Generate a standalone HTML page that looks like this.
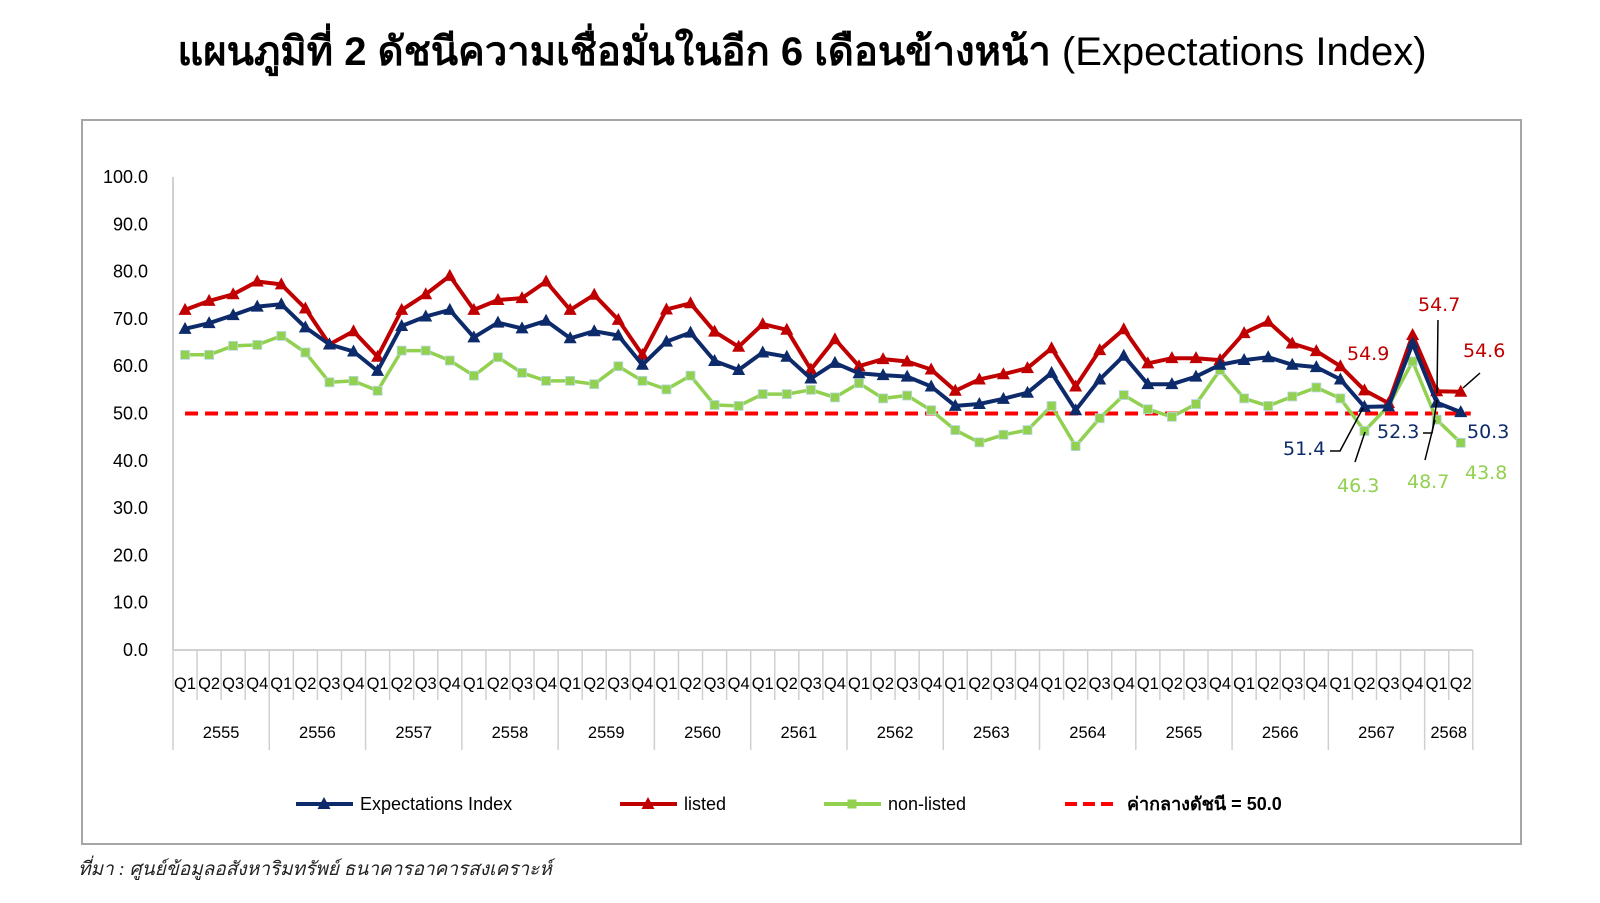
<!DOCTYPE html>
<html><head><meta charset="utf-8">
<style>
html,body{margin:0;padding:0;background:#fff;}
body{width:1600px;height:903px;overflow:hidden;position:relative;font-family:"Liberation Sans","Noto Sans CJK SC",sans-serif;}
</style></head>
<body>
<svg id="chart" width="1600" height="903" xmlns="http://www.w3.org/2000/svg" style="position:absolute;left:0;top:0;font-family:'Liberation Sans','Noto Sans CJK SC',sans-serif">
<text x="802" y="65" text-anchor="middle" font-size="40" font-weight="bold" fill="#000" font-family="'Liberation Sans','Noto Sans CJK SC',sans-serif">แผนภูมิที่ 2 ดัชนีความเชื่อมั่นในอีก 6 เดือนข้างหน้า <tspan font-weight="normal">(Expectations Index)</tspan></text>
<rect x="82" y="120" width="1439" height="724" fill="none" stroke="#a6a6a6" stroke-width="2"/>
<g id="axes"></g>
<g id="series"></g>
<g id="labels"></g>
<g id="legend"></g>
<text x="78" y="875" font-size="19" fill="#222" font-family="'Liberation Serif','Noto Serif CJK SC',serif" font-style="italic">ที่มา : ศูนย์ข้อมูลอสังหาริมทรัพย์ ธนาคารอาคารสงเคราะห์</text>
</svg>
<script>
const years = ["2555","2556","2557","2558","2559","2560","2561","2562","2563","2564","2565","2566","2567","2568"];
const quarters = ["Q1","Q2","Q3","Q4"];
const yTicks = [0,10,20,30,40,50,60,70,80,90,100];
const expectations = [67.9,69.1,70.8,72.6,73.1,68.2,64.6,63.1,59.0,68.5,70.5,71.9,66.1,69.2,68.0,69.6,65.9,67.4,66.5,60.3,65.2,67.1,61.1,59.2,62.9,62.0,57.4,60.7,58.5,58.1,57.8,55.7,51.6,52.0,53.1,54.4,58.6,50.7,57.2,62.2,56.2,56.2,57.8,60.3,61.3,61.9,60.3,59.8,57.2,51.4,51.5,64.8,52.3,50.3];
const listed = [71.9,73.8,75.2,77.9,77.3,72.2,64.6,67.4,62.0,71.9,75.2,79.1,71.9,74.0,74.4,77.9,71.9,75.1,69.8,62.4,72.0,73.3,67.3,64.1,68.9,67.7,59.3,65.7,60.0,61.5,61.0,59.3,54.8,57.2,58.3,59.6,63.8,55.7,63.4,67.8,60.6,61.7,61.7,61.3,67.0,69.4,64.8,63.2,60.0,54.9,52.2,66.6,54.7,54.6];
const nonListed = [62.4,62.4,64.3,64.5,66.4,62.9,56.6,56.9,54.8,63.3,63.3,61.2,58.0,61.9,58.6,56.9,56.9,56.2,60.0,56.9,55.1,58.0,51.8,51.6,54.1,54.1,55.0,53.4,56.4,53.2,53.8,50.7,46.5,43.9,45.5,46.5,51.6,43.1,49.0,53.9,50.9,49.3,52.0,59.2,53.2,51.6,53.6,55.5,53.2,46.3,51.6,61.0,48.7,43.8];
const midValue = 50.0;

const NS="http://www.w3.org/2000/svg";
const X0=173, CW=24.07, Y0=650, PPU=4.73;
const N=expectations.length;
function xs(i){return X0+CW*(i+0.5);}
function ys(v){return Y0-v*PPU;}
function mk(tag,attrs,parent){const e=document.createElementNS(NS,tag);for(const k in attrs)e.setAttribute(k,attrs[k]);parent.appendChild(e);return e;}
const axes=document.getElementById('axes');
const XEND=X0+CW*N;
let ya=mk('line',{x1:X0,y1:ys(100),x2:X0,y2:Y0,stroke:'#d0d0d0','stroke-width':2},axes);


yTicks.forEach(t=>{
  const tx=mk('text',{x:148,y:ys(t)+6,'text-anchor':'end','font-size':18,fill:'#000'},axes);
  tx.textContent=t.toFixed(1);
  
  
});
let xa=mk('line',{x1:X0,y1:Y0,x2:XEND,y2:Y0,stroke:'#d0d0d0','stroke-width':2},axes);


for(let i=0;i<=N;i++){
  const yearTick = i%4===0 || i===N;
  const tk=mk('line',{x1:X0+CW*i,y1:Y0,x2:X0+CW*i,y2:yearTick?750:700,stroke:'#d0d0d0','stroke-width':1.5},axes);
  
  
}
for(let i=0;i<N;i++){
  const q=mk('text',{x:xs(i),y:689,'text-anchor':'middle','font-size':16.5,fill:'#000'},axes);
  q.textContent=quarters[i%4];
  
  
}
years.forEach((yr,k)=>{
  const start=k*4, end=Math.min(N,k*4+4);
  const cx=X0+CW*(start+end)/2;
  const t=mk('text',{x:cx,y:738,'text-anchor':'middle','font-size':16.5,fill:'#000'},axes);
  t.textContent=yr;
  
  
});
const series=document.getElementById('series');
let ml=mk('line',{x1:xs(0),y1:ys(midValue),x2:xs(N-1)+10,y2:ys(midValue),stroke:'#ff0000','stroke-width':4,'stroke-dasharray':'13 7'},series);


function drawSeries(vals,color,marker,name,w){
  const g=mk('g',{},series);
  
  
  const pts=vals.map((v,i)=>xs(i).toFixed(1)+','+ys(v).toFixed(1)).join(' ');
  const pl=mk('polyline',{points:pts,fill:'none',stroke:color,'stroke-width':w,'stroke-linejoin':'round'},g);
  
  
  vals.forEach((v,i)=>{
    const x=xs(i),y=ys(v);let m;
    if(marker==='tri'){m=mk('polygon',{points:`${x},${y-7} ${x-6.5},${y+5} ${x+6.5},${y+5}`,fill:color},g);}
    else{m=mk('rect',{x:x-4.5,y:y-4.5,width:9,height:9,fill:color,stroke:'#b8d8e8','stroke-width':0.8},g);}
    
    
  });
}
drawSeries(nonListed,'#92d050','sq','non-listed',3.5);
drawSeries(listed,'#c00000','tri','listed',4);
drawSeries(expectations,'#0d2a6b','tri','expectations-index',4);
const lab=document.getElementById('labels');
const ann=[
 ["54.9",1347,360,'#c00000'],["54.7",1418,311,'#c00000'],["54.6",1463,357,'#c00000'],
 ["51.4",1283,455,'#0d2a6b'],["52.3",1377,438,'#0d2a6b'],["50.3",1467,438,'#0d2a6b'],
 ["46.3",1337,492,'#92d050'],["48.7",1407,488,'#92d050'],["43.8",1465,479,'#92d050']];
ann.forEach(a=>{
  const t=mk('text',{x:a[1],y:a[2],'font-size':19,fill:a[3],'font-family':"'DejaVu Sans',sans-serif"},lab);
  t.textContent=a[0];
  
  
});
const leaders=["1330,451 1340,451 1363,408","1355,462 1365,432","1423,433 1432,433 1437,400","1438,320 1437,393","1425,460 1435,420","1463,388 1480,373"];
leaders.forEach(p=>{
  const l=mk('polyline',{points:p,fill:'none',stroke:'#000','stroke-width':1.5},lab);
  
  
});
const leg=document.getElementById('legend');
const items=[[296,'#0d2a6b','tri','Expectations Index'],[620,'#c00000','tri','listed'],[824,'#92d050','sq','non-listed'],[1065,'#ff0000','dash','ค่ากลางดัชนี = 50.0']];
items.forEach(it=>{
  const g=mk('g',{},leg);
  
  
  const x=it[0],y=804;
  if(it[2]==='dash'){mk('line',{x1:x,y1:y,x2:x+54,y2:y,stroke:it[1],'stroke-width':4,'stroke-dasharray':'12 6'},g);}
  else{
    mk('line',{x1:x,y1:y,x2:x+57,y2:y,stroke:it[1],'stroke-width':4},g);
    const cx=x+28;
    if(it[2]==='tri')mk('polygon',{points:`${cx},${y-7} ${cx-6.5},${y+5} ${cx+6.5},${y+5}`,fill:it[1]},g);
    else mk('rect',{x:cx-4.5,y:y-4.5,width:9,height:9,fill:it[1]},g);
  }
  const t=mk('text',{x:x+(it[2]==='dash'?62:64),y:y+6,'font-size':18,fill:'#000'},g);
  if(it[2]==='dash')t.setAttribute('font-weight','bold');
  t.textContent=it[3];
});
</script>
</body></html>
